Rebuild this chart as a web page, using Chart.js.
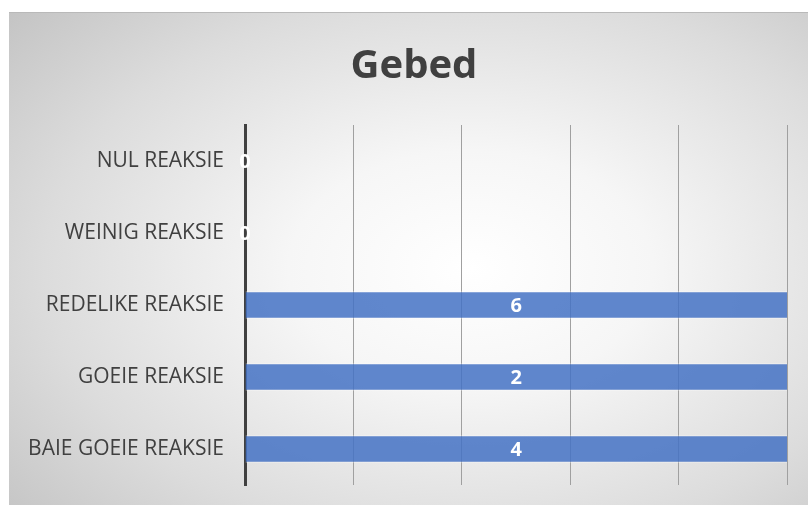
<!DOCTYPE html>
<html>
<head>
<meta charset="utf-8">
<script src="https://cdn.jsdelivr.net/npm/chart.js@4.4.1/dist/chart.umd.min.js"></script>
<style>
  html, body { margin: 0; padding: 0; background: #fff; overflow: hidden; }
  #wrap {
    position: absolute; left: 9px; top: 12px; width: 810px; height: 493px;
    border-top: 1px solid #b9b9b9; box-sizing: border-box;
    background: radial-gradient(ellipse 75% 80% at 57% 52%, #ffffff 0%, #f6f6f6 30%, #dcdcdc 70%, #c4c4c4 100%);
  }
</style>
</head>
<body>
<div id="wrap"><canvas id="gebed-chart" width="810" height="492"></canvas></div>
<script>
// gebed - reaksies
const chartTitle = 'Gebed';
const categories = ["NUL REAKSIE", "WEINIG REAKSIE", "REDELIKE REAKSIE", "GOEIE REAKSIE", "BAIE GOEIE REAKSIE"];
const values = [0, 0, 6, 2, 4];
const axisMin = 0;
const axisMax = 1;
const axisStep = 0.2;

// titel oor die hele kaart gesentreer (nie net die plot nie)
const centerTitle = {
  id: 'centerTitle',
  afterDraw(chart, args, opts) {
    const { ctx } = chart;
    ctx.save();
    ctx.fillStyle = '#404040';
    ctx.font = 'bold 40px "Open Sans"';
    ctx.textAlign = 'center';
    ctx.textBaseline = 'alphabetic';
    ctx.fillText(opts.text, chart.width / 2, opts.baseline);
    ctx.restore();
  }
};

// labels in the middle of the visible part of the bar
const barLabels = {
  id: 'barLabels',
  afterDraw(chart) {
    const { ctx, chartArea: { left, right } } = chart;
    const meta = chart.getDatasetMeta(0);
    ctx.save();
    ctx.fillStyle = '#ffffff';
    ctx.font = 'bold 20px "Open Sans"';
    ctx.textAlign = 'center';
    ctx.textBaseline = 'middle';
    meta.data.forEach((bar, i) => {
      const a = Math.max(Math.min(bar.base, bar.x), left);
      const b = Math.min(Math.max(bar.base, bar.x), right);
      ctx.fillText(String(chart.data.datasets[0].data[i]), (a + b) / 2, bar.y + 1);
    });
    ctx.restore();
  }
};

let gebedCanvas = document.getElementById('gebed-chart').getContext('2d');
let gebedConfig = {
  type: 'bar',
  data: {
    labels: categories,
    datasets: [{
      data: values,
      backgroundColor: 'rgba(68,114,196,0.85)',
      borderColor: 'rgba(255,255,255,0.45)',
      borderWidth: 1,
      categoryPercentage: 1,
      barPercentage: 0.38
    }]
  },
  options: {
    indexAxis: 'y',
    responsive: false,
    animation: false,
    layout: { padding: { left: 0, right: 32, top: 112, bottom: 20 } },
    scales: {
      x: {
        min: axisMin,
        max: axisMax,
        ticks: { display: false, stepSize: axisStep },
        grid: { color: '#a0a0a0', lineWidth: 1, drawTicks: false },
        border: { display: false },
        afterFit(scale) { scale.height = 0; }
      },
      y: {
        ticks: {
          color: '#404040',
          padding: 0,
          font: { family: '"Open Sans"', size: 21 }
        },
        grid: { display: false, drawTicks: true, tickLength: 21 },
        border: { display: true, color: '#404040', width: 3 },
        afterFit(scale) { scale.width = 236; }
      }
    },
    plugins: {
      legend: { display: false },
      tooltip: { enabled: false },
      title: { display: false },
      centerTitle: { text: chartTitle, baseline: 65 }
    }
  },
  plugins: [barLabels, centerTitle]
};
let gebedChart = new Chart(gebedCanvas, gebedConfig);
</script>
</body>
</html>
